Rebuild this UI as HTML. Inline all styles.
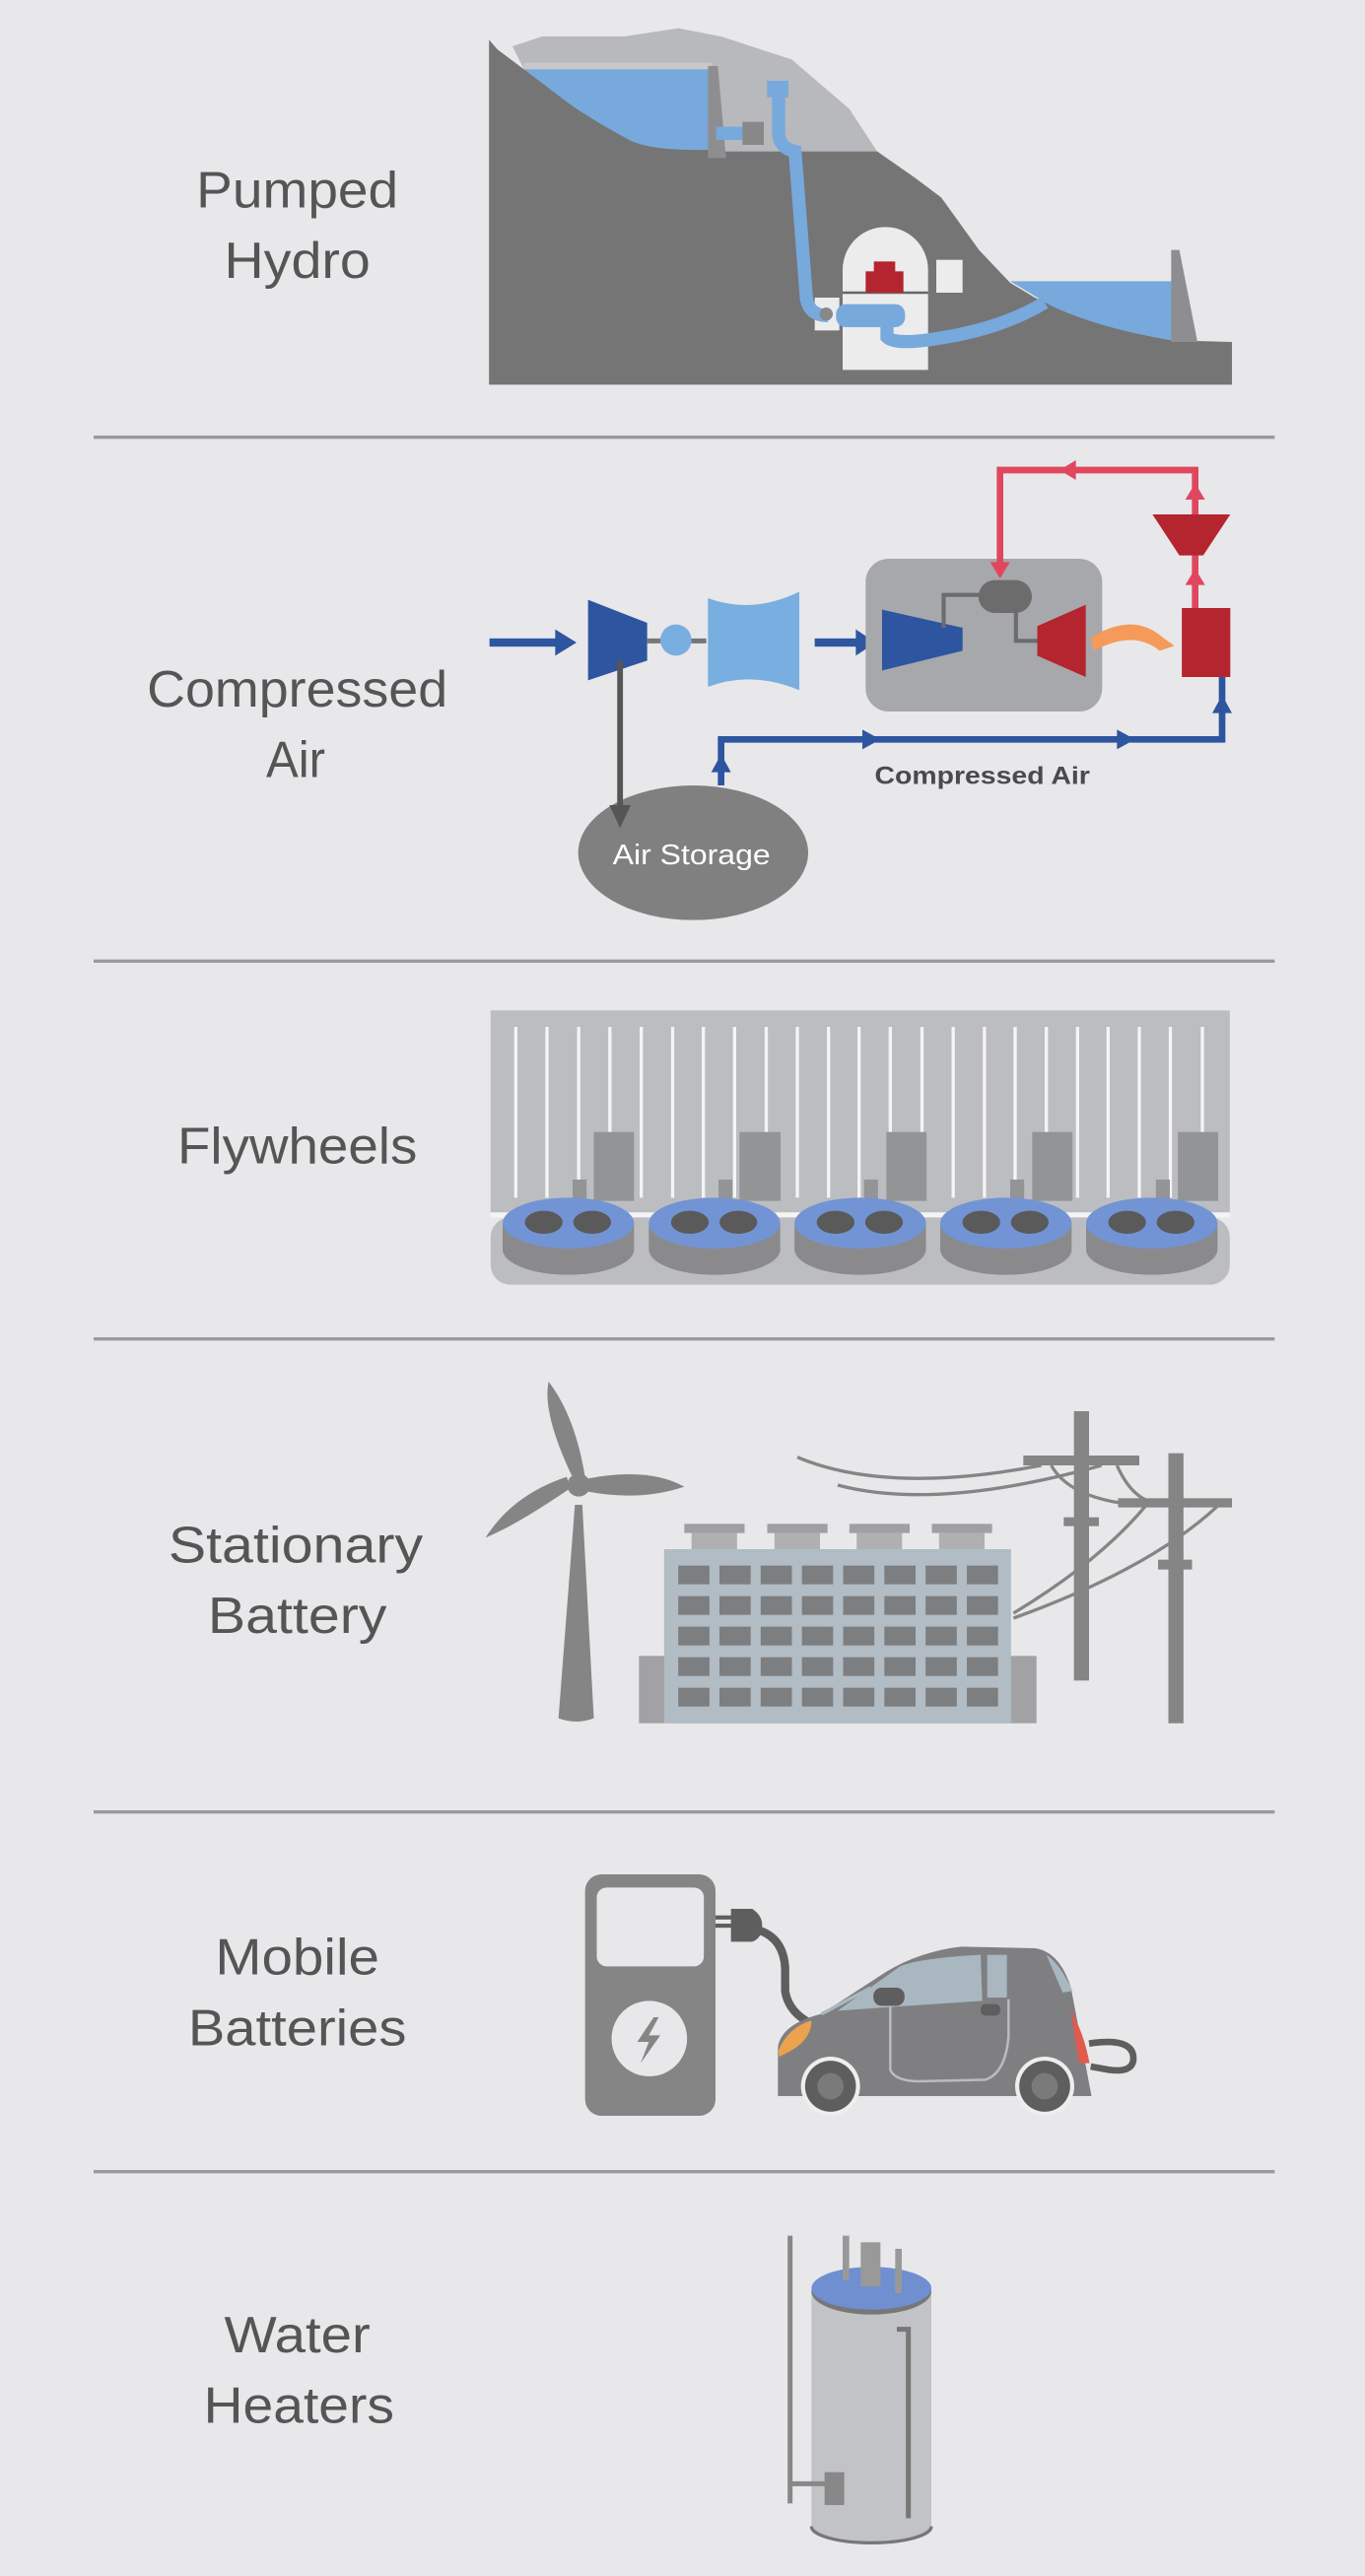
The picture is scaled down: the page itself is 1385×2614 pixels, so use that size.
<!DOCTYPE html>
<html><head><meta charset="utf-8"><style>
html,body{margin:0;padding:0;background:#e8e8ea;}
svg{display:block;}
.lb{font-family:"Liberation Sans",sans-serif;font-size:31px;fill:#555;text-anchor:middle;}
</style></head><body>
<svg width="1385" height="2614" viewBox="0 0 831 1568" xmlns="http://www.w3.org/2000/svg">
<rect width="831" height="1568" fill="#e8e8ea"/>
<!-- labels -->
<text class="lb" x="181" y="126" textLength="123" lengthAdjust="spacingAndGlyphs">Pumped</text>
<text class="lb" x="181" y="169" textLength="89" lengthAdjust="spacingAndGlyphs">Hydro</text>
<text class="lb" x="181" y="430" textLength="183" lengthAdjust="spacingAndGlyphs">Compressed</text>
<text class="lb" x="180" y="473" textLength="36" lengthAdjust="spacingAndGlyphs">Air</text>
<text class="lb" x="181" y="708" textLength="146" lengthAdjust="spacingAndGlyphs">Flywheels</text>
<text class="lb" x="180" y="951" textLength="155" lengthAdjust="spacingAndGlyphs">Stationary</text>
<text class="lb" x="181" y="994" textLength="109" lengthAdjust="spacingAndGlyphs">Battery</text>
<text class="lb" x="181" y="1202" textLength="100" lengthAdjust="spacingAndGlyphs">Mobile</text>
<text class="lb" x="181" y="1245" textLength="133" lengthAdjust="spacingAndGlyphs">Batteries</text>
<text class="lb" x="181" y="1432" textLength="89" lengthAdjust="spacingAndGlyphs">Water</text>
<text class="lb" x="182" y="1475" textLength="116" lengthAdjust="spacingAndGlyphs">Heaters</text>
<!-- dividers -->
<g stroke="#9a9a9c" stroke-width="2">
<line x1="57" y1="266" x2="776" y2="266"/><line x1="57" y1="585" x2="776" y2="585"/>
<line x1="57" y1="815" x2="776" y2="815"/><line x1="57" y1="1103" x2="776" y2="1103"/>
<line x1="57" y1="1322" x2="776" y2="1322"/>
</g>

<!-- PUMPED HYDRO -->
<path d="M312,28 L330,22 L380,22 L413,17 L439,22 L482,36 L517,66 L534,92 L433,92 L433,42 L319,42 Z" fill="#b8b9bc"/>
<path d="M297.7,24 L303,30 L319,42 L433,42 L433,92 L534,92 L557,108 L573,120 L596,152 L615,172 L630,181 Q670,200 714,207 L750,208 L750,234 L297.7,234 Z" fill="#757575"/>
<rect x="319" y="38" width="114" height="4" fill="#c8c8ca"/>
<path d="M319,42 L433,42 L433,91 Q400,92 385,86 Q355,70 340,58 Z" fill="#77a9dc"/>
<path d="M431,40 L437,40 L442,96 L431,96 Z" fill="#8e8e90"/>
<path d="M615,171 L714,171 L714,207 Q670,200 640,186 Z" fill="#77a9dc"/>
<path d="M713,152 L718,152 L729,208 L713,208 Z" fill="#8e8e90"/>
<path d="M513,225 L513,164 A26,26 0 0 1 565,164 L565,225 Z" fill="#ececec"/>
<line x1="513" y1="178" x2="565" y2="178" stroke="#666" stroke-width="1.5"/>
<rect x="527" y="165" width="23" height="13" fill="#b5252f"/><rect x="532" y="159" width="13" height="7" fill="#b5252f"/>
<rect x="570" y="158" width="16" height="20" fill="#ececec"/>
<rect x="496" y="181" width="15" height="20" fill="#ececec"/>
<g fill="none" stroke="#77a9dc" stroke-width="8">
<path d="M436,81 L458,81"/>
<path d="M474,52 L474,80 Q474,90 484,92 L491,182 Q493,192 504,192"/>
<path d="M540,195 L540,205 Q545,210 570,206 Q610,200 636,184"/>
</g>
<rect x="467" y="49" width="13" height="10" fill="#77a9dc"/>
<rect x="452" y="74" width="13" height="14" fill="#888"/>
<rect x="509" y="185" width="42" height="14" rx="6" fill="#77a9dc"/>
<circle cx="503" cy="191" r="4" fill="#888"/>

<!-- COMPRESSED AIR -->
<g fill="#2e55a0">
<rect x="298" y="388.5" width="42" height="5"/><path d="M338,383 L351,391 L338,399 Z"/>
<path d="M358,365 L394,379 L394,402 L358,414 Z"/>
<rect x="496" y="388.5" width="27" height="5"/><path d="M521,383 L533,391 L521,399 Z"/>
</g>
<line x1="394" y1="390" x2="430" y2="390" stroke="#777" stroke-width="3"/>
<circle cx="411.5" cy="389.5" r="9.5" fill="#79aee0"/>
<path d="M431,364 Q458,374 486.6,360 L486.6,420 Q458,408 431,418 Z" fill="#79aee0"/>
<rect x="527" y="340" width="144" height="93" rx="14" fill="#a6a8ab"/>
<path d="M537,371 L586,382 L586,396 L537,408 Z" fill="#2e55a0"/>
<g stroke="#6c6c6c" stroke-width="2.5" fill="none"><path d="M574.5,382 L574.5,362 L597,362"/><path d="M618.5,372 L618.5,390 L632,390"/></g>
<rect x="595.7" y="353" width="32.5" height="20" rx="10" fill="#6c6c6c"/>
<path d="M631.5,381 L661,368 L661,412 L631.5,399 Z" fill="#b5252f"/>
<path d="M664,388 Q690,372 708,388 L715,393 L706,396 Q690,383 666,396 Z" fill="#f59a5a"/>
<rect x="719.5" y="370" width="29.5" height="42" fill="#b5252f"/>
<g stroke="#e0475e" stroke-width="4" fill="none"><path d="M727.6,370 L727.6,286 L608.8,286 L608.8,344"/></g>
<g fill="#e0475e"><path d="M602.8,342 L614.8,342 L608.8,352 Z"/><path d="M721.6,356 L733.6,356 L727.6,346 Z"/><path d="M721.6,304 L733.6,304 L727.6,294 Z"/><path d="M655,280 L655,292 L645,286 Z"/></g>
<path d="M701.6,313 L749,313 L732.5,338 L718,338 Z" fill="#b5252f"/>
<g stroke="#2e55a0" stroke-width="4" fill="none"><path d="M439,478 L439,450 L744,450 L744,412"/></g>
<g fill="#2e55a0"><path d="M433,470 L445,470 L439,459 Z"/><path d="M525,444 L536,450 L525,456 Z"/><path d="M680,444 L691,450 L680,456 Z"/><path d="M738,434 L750,434 L744,423 Z"/></g>
<text x="598" y="477" font-family="'Liberation Sans',sans-serif" font-size="15" font-weight="bold" fill="#4a4a4c" text-anchor="middle" textLength="131" lengthAdjust="spacingAndGlyphs">Compressed Air</text>
<ellipse cx="422" cy="519" rx="70" ry="41" fill="#808080"/>
<line x1="377.5" y1="402" x2="377.5" y2="494" stroke="#555" stroke-width="3.5"/>
<path d="M371,490 L384,490 L377.5,504 Z" fill="#555"/>
<text x="421" y="526" font-family="'Liberation Sans',sans-serif" font-size="17" fill="#fff" text-anchor="middle" textLength="96" lengthAdjust="spacingAndGlyphs">Air Storage</text>

<!-- FLYWHEELS -->
<rect x="298.7" y="615" width="450" height="123" fill="#bcbdc1"/>
<g stroke="#f4f4f4" stroke-width="2">
<line x1="314" y1="625" x2="314" y2="729"/><line x1="333" y1="625" x2="333" y2="729"/><line x1="352.3" y1="625" x2="352.3" y2="729"/><line x1="371.3" y1="625" x2="371.3" y2="729"/><line x1="390.4" y1="625" x2="390.4" y2="729"/><line x1="409.5" y1="625" x2="409.5" y2="729"/><line x1="428.2" y1="625" x2="428.2" y2="729"/><line x1="447.2" y1="625" x2="447.2" y2="729"/><line x1="466.5" y1="625" x2="466.5" y2="729"/><line x1="485.4" y1="625" x2="485.4" y2="729"/><line x1="504.4" y1="625" x2="504.4" y2="729"/><line x1="523" y1="625" x2="523" y2="729"/><line x1="542" y1="625" x2="542" y2="729"/><line x1="561.3" y1="625" x2="561.3" y2="729"/><line x1="580.3" y1="625" x2="580.3" y2="729"/><line x1="599.3" y1="625" x2="599.3" y2="729"/><line x1="618" y1="625" x2="618" y2="729"/><line x1="637" y1="625" x2="637" y2="729"/><line x1="656" y1="625" x2="656" y2="729"/><line x1="674.6" y1="625" x2="674.6" y2="729"/><line x1="693.6" y1="625" x2="693.6" y2="729"/><line x1="712.5" y1="625" x2="712.5" y2="729"/><line x1="732" y1="625" x2="732" y2="729"/>
</g>
<g fill="#939496">
<rect x="361.5" y="689" width="24.5" height="42"/><rect x="450.2" y="689" width="25" height="42"/><rect x="539.6" y="689" width="24.5" height="42"/><rect x="628.4" y="689" width="24.5" height="42"/><rect x="717.1" y="689" width="24.5" height="42"/>
<rect x="348.6" y="718" width="8.5" height="12"/><rect x="437.4" y="718" width="8.5" height="12"/><rect x="526" y="718" width="8.5" height="12"/><rect x="615" y="718" width="8.5" height="12"/><rect x="703.7" y="718" width="8.5" height="12"/>
</g>
<rect x="298.7" y="738" width="450" height="3" fill="#f4f4f4"/>
<rect x="298.7" y="741" width="450" height="41" rx="12" fill="#bcbdc1"/>
<g id="pk">
<path d="M306,744.5 L306,760.5 A40,15.5 0 0 0 386,760.5 L386,744.5 Z" fill="#8a8a8c"/>
<ellipse cx="346" cy="744.5" rx="40" ry="15.5" fill="#7294d4"/>
<ellipse cx="331" cy="744" rx="11.5" ry="7" fill="#5a5a5a"/><ellipse cx="360.5" cy="744" rx="11.5" ry="7" fill="#5a5a5a"/>
</g>
<use href="#pk" x="89"/><use href="#pk" x="177.7"/><use href="#pk" x="266.4"/><use href="#pk" x="355.2"/>

<!-- STATIONARY BATTERY -->
<g fill="#858585">
<path d="M350,916 L354.5,916 L361.5,1046 Q351,1050 340,1046 Z"/>
<circle cx="352.3" cy="904" r="7"/>
<path d="M348,898 Q330,860 334,841 Q350,862 356,898 Z"/>
<path d="M358,900 Q395,893 416.6,905 Q390,914 358,908 Z"/>
<path d="M347,906 Q315,928 295.6,936 Q312,910 345,899 Z"/>
<rect x="653.8" y="859" width="9.2" height="164"/><rect x="623" y="886" width="70.6" height="6"/><rect x="647.6" y="923.6" width="21.4" height="5.4"/>
<rect x="711.3" y="884.6" width="9.2" height="164.4"/><rect x="680.7" y="912" width="69.3" height="5.6"/><rect x="705" y="949.4" width="20.7" height="6"/>
</g>
<g stroke="#858585" stroke-width="2" fill="none">
<path d="M485.4,887 Q540,910 634,892"/><path d="M510,904 Q570,920 670.6,892"/>
<path d="M640,892 Q650,910 683,915"/><path d="M680,892 Q688,910 700,914"/>
<path d="M617,982 Q670,950 698,916"/><path d="M617,985 Q700,955 741,917"/>
</g>
<rect x="389" y="1008" width="242" height="41" fill="#a2a2a4"/>
<rect x="404.3" y="943" width="211.2" height="106" fill="#b1bcc4"/>
<g id="ch"><rect x="416.6" y="927.6" width="36.7" height="5.6" fill="#a0a0a2"/><rect x="421" y="933" width="27.7" height="10" fill="#b0b0b2"/></g>
<use href="#ch" x="50.5"/><use href="#ch" x="100.5"/><use href="#ch" x="150.7"/>
<g fill="#7d7e80" id="wr">
<rect x="412.9" y="953" width="19" height="11.4"/><rect x="438" y="953" width="19" height="11.4"/><rect x="463.1" y="953" width="19" height="11.4"/><rect x="488.2" y="953" width="19" height="11.4"/><rect x="513.3" y="953" width="19" height="11.4"/><rect x="538.4" y="953" width="19" height="11.4"/><rect x="563.5" y="953" width="19" height="11.4"/><rect x="588.6" y="953" width="19" height="11.4"/>
</g>
<use href="#wr" y="18.6"/><use href="#wr" y="37.2"/><use href="#wr" y="55.8"/><use href="#wr" y="74.4"/>

<!-- MOBILE BATTERIES -->
<rect x="356.2" y="1141" width="79.4" height="147" rx="10" fill="#858585"/>
<rect x="363.3" y="1149" width="65.2" height="48" rx="6" fill="#e8e8ea"/>
<circle cx="395.3" cy="1241" r="23" fill="#e8e8ea"/>
<path d="M398,1228 L388,1243 L395,1243 L390,1256 L402,1239 L395,1239 L401,1228 Z" fill="#858585"/>
<rect x="435.6" y="1166" width="10" height="2.5" fill="#5e5e5e"/><rect x="435.6" y="1171" width="10" height="2.5" fill="#5e5e5e"/>
<path d="M445,1162 L458,1162 Q464,1166 464,1172 Q464,1180 458,1182 L445,1182 Z" fill="#5e5e5e"/>
<path d="M462,1175 Q477,1180 478,1198 L478,1212 Q480,1225 494,1232" fill="none" stroke="#5e5e5e" stroke-width="5"/>
<path d="M663,1244 Q690,1240 690,1253 Q690,1262 675,1260 L664,1258" fill="none" stroke="#5e5e5e" stroke-width="4"/>
<path d="M473.6,1276 L473.6,1246 Q476,1232 500,1226 L540,1200 Q560,1188 585,1185 L630,1186 Q645,1188 652,1210 L664.5,1276 Z" fill="#7f7f81"/>
<path d="M510,1224 L548,1197 Q560,1192 597,1190 L598,1218 Z" fill="#a9b7c1"/>
<rect x="601" y="1190" width="12" height="26" fill="#a9b7c1"/>
<path d="M637,1190 Q645,1195 653,1212 L647,1213 Z" fill="#a9b7c1"/>
<path d="M500,1226 L504,1224 L530,1210" fill="none" stroke="#a9b7c1" stroke-width="2"/>
<path d="M542,1221 L542,1260 Q545,1267 560,1267 L600,1266 Q612,1262 614,1240 L614,1217" fill="none" stroke="#b8bcc2" stroke-width="1.5"/>
<rect x="531.7" y="1210" width="19" height="11" rx="5" fill="#5e5e5e"/>
<rect x="597" y="1220" width="12" height="7" rx="3" fill="#5e5e5e"/>
<path d="M474,1248 Q480,1234 494,1230 Q494,1244 474,1252 Z" fill="#eba24f"/>
<path d="M652,1224 Q660,1238 663.3,1256 L657,1256 Q654,1240 652,1224 Z" fill="#e05a4e"/>
<g id="wh"><circle cx="505.6" cy="1270" r="18" fill="#eeeeee"/><circle cx="505.6" cy="1270" r="15.5" fill="#5e5e5e"/><circle cx="505.6" cy="1270" r="8" fill="#7a7a7a"/></g>
<use href="#wh" x="130.4"/>

<!-- WATER HEATERS -->
<path d="M494,1394 L494,1538 A36.5,10 0 0 0 567,1538 L567,1394 Z" fill="#c2c3c6"/>
<path d="M494,1538 A36.5,10 0 0 0 567,1538" fill="none" stroke="#777" stroke-width="2"/>
<ellipse cx="530.5" cy="1395" rx="36.5" ry="14" fill="#777"/>
<ellipse cx="530.5" cy="1393" rx="36.5" ry="13" fill="#6f8fd0"/>
<g fill="#999"><rect x="513" y="1361" width="4" height="27"/><rect x="524" y="1365" width="12" height="27"/><rect x="545" y="1369" width="4" height="27"/></g>
<path d="M546,1418 L553,1418 L553,1533" fill="none" stroke="#777" stroke-width="3"/>
<line x1="481" y1="1361" x2="481" y2="1524" stroke="#888" stroke-width="3"/>
<line x1="481" y1="1512" x2="503" y2="1512" stroke="#888" stroke-width="3"/>
<rect x="502" y="1505" width="12" height="20" fill="#888"/>
</svg>
</body></html>
